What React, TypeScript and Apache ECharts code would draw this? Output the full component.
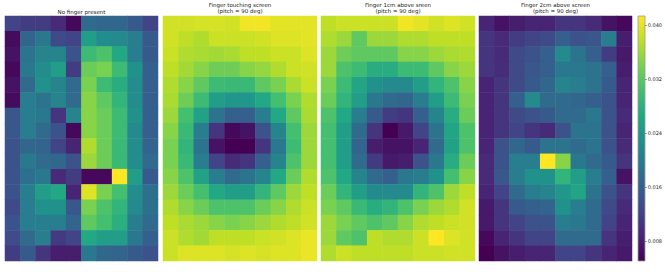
import React, { useEffect, useRef } from "react";
import * as echarts from "echarts";

const columns = ["0", "1", "2", "3", "4", "5", "6", "7", "8", "9"];
const rows = ["0", "1", "2", "3", "4", "5", "6", "7", "8", "9", "10", "11", "12", "13", "14", "15"];

const titles = [
  ["No finger present"],
  ["Finger touching screen", "(pitch = 90 deg)"],
  ["Finger 1cm above sreen", "(pitch = 90 deg)"],
  ["Finger 2cm above screen", "(pitch = 90 deg)"],
];

const colorbarTicks = [0.008, 0.016, 0.024, 0.032, 0.04];
const valueMin = 0.005;
const valueMax = 0.0413;

const noFinger = [
  [0.0123, 0.0115, 0.0115, 0.0094, 0.0057, 0.0177, 0.0170, 0.0170, 0.0152, 0.0123],
  [0.0061, 0.0166, 0.0195, 0.0130, 0.0123, 0.0250, 0.0224, 0.0221, 0.0202, 0.0152],
  [0.0068, 0.0188, 0.0213, 0.0213, 0.0141, 0.0297, 0.0311, 0.0268, 0.0202, 0.0152],
  [0.0057, 0.0195, 0.0224, 0.0250, 0.0115, 0.0330, 0.0340, 0.0297, 0.0232, 0.0159],
  [0.0068, 0.0177, 0.0232, 0.0213, 0.0177, 0.0340, 0.0297, 0.0275, 0.0224, 0.0159],
  [0.0061, 0.0202, 0.0188, 0.0213, 0.0177, 0.0348, 0.0322, 0.0286, 0.0224, 0.0159],
  [0.0148, 0.0202, 0.0195, 0.0104, 0.0213, 0.0348, 0.0330, 0.0297, 0.0232, 0.0159],
  [0.0148, 0.0202, 0.0177, 0.0141, 0.0057, 0.0348, 0.0330, 0.0297, 0.0221, 0.0159],
  [0.0141, 0.0170, 0.0166, 0.0123, 0.0086, 0.0369, 0.0330, 0.0293, 0.0224, 0.0166],
  [0.0141, 0.0195, 0.0177, 0.0170, 0.0141, 0.0359, 0.0330, 0.0293, 0.0224, 0.0177],
  [0.0141, 0.0184, 0.0195, 0.0094, 0.0115, 0.0057, 0.0057, 0.0413, 0.0250, 0.0152],
  [0.0141, 0.0206, 0.0250, 0.0268, 0.0086, 0.0395, 0.0340, 0.0304, 0.0224, 0.0184],
  [0.0130, 0.0202, 0.0232, 0.0232, 0.0148, 0.0340, 0.0311, 0.0286, 0.0221, 0.0184],
  [0.0141, 0.0202, 0.0202, 0.0202, 0.0166, 0.0322, 0.0304, 0.0279, 0.0202, 0.0177],
  [0.0133, 0.0177, 0.0202, 0.0112, 0.0123, 0.0268, 0.0250, 0.0250, 0.0195, 0.0159],
  [0.0115, 0.0152, 0.0104, 0.0079, 0.0079, 0.0195, 0.0170, 0.0166, 0.0152, 0.0141],
];

const touching = [
  [0.0388, 0.0388, 0.0391, 0.0391, 0.0388, 0.0406, 0.0406, 0.0398, 0.0398, 0.0398],
  [0.0388, 0.0377, 0.0369, 0.0384, 0.0384, 0.0384, 0.0388, 0.0395, 0.0395, 0.0398],
  [0.0384, 0.0369, 0.0366, 0.0362, 0.0366, 0.0377, 0.0377, 0.0384, 0.0384, 0.0395],
  [0.0377, 0.0362, 0.0348, 0.0333, 0.0333, 0.0348, 0.0355, 0.0369, 0.0384, 0.0388],
  [0.0369, 0.0348, 0.0322, 0.0297, 0.0293, 0.0293, 0.0322, 0.0340, 0.0366, 0.0384],
  [0.0366, 0.0333, 0.0297, 0.0250, 0.0239, 0.0239, 0.0268, 0.0304, 0.0340, 0.0369],
  [0.0359, 0.0304, 0.0257, 0.0188, 0.0159, 0.0159, 0.0202, 0.0268, 0.0322, 0.0366],
  [0.0348, 0.0293, 0.0202, 0.0104, 0.0057, 0.0068, 0.0141, 0.0213, 0.0304, 0.0359],
  [0.0340, 0.0286, 0.0188, 0.0068, 0.0050, 0.0050, 0.0104, 0.0195, 0.0297, 0.0359],
  [0.0340, 0.0293, 0.0202, 0.0123, 0.0094, 0.0104, 0.0159, 0.0213, 0.0311, 0.0359],
  [0.0348, 0.0311, 0.0257, 0.0202, 0.0177, 0.0188, 0.0213, 0.0268, 0.0330, 0.0369],
  [0.0359, 0.0330, 0.0304, 0.0268, 0.0250, 0.0250, 0.0286, 0.0322, 0.0359, 0.0377],
  [0.0369, 0.0348, 0.0330, 0.0311, 0.0311, 0.0311, 0.0330, 0.0348, 0.0369, 0.0384],
  [0.0377, 0.0366, 0.0359, 0.0348, 0.0340, 0.0348, 0.0359, 0.0369, 0.0377, 0.0388],
  [0.0384, 0.0369, 0.0362, 0.0377, 0.0377, 0.0377, 0.0384, 0.0388, 0.0395, 0.0402],
  [0.0384, 0.0395, 0.0395, 0.0395, 0.0391, 0.0395, 0.0391, 0.0395, 0.0395, 0.0402],
];

const oneCm = [
  [0.0377, 0.0384, 0.0384, 0.0384, 0.0384, 0.0406, 0.0398, 0.0388, 0.0395, 0.0388],
  [0.0369, 0.0359, 0.0322, 0.0359, 0.0359, 0.0369, 0.0369, 0.0377, 0.0377, 0.0377],
  [0.0359, 0.0333, 0.0322, 0.0322, 0.0322, 0.0348, 0.0348, 0.0359, 0.0366, 0.0369],
  [0.0359, 0.0311, 0.0297, 0.0275, 0.0275, 0.0297, 0.0297, 0.0322, 0.0348, 0.0359],
  [0.0340, 0.0297, 0.0261, 0.0232, 0.0221, 0.0221, 0.0250, 0.0286, 0.0311, 0.0348],
  [0.0330, 0.0286, 0.0250, 0.0195, 0.0177, 0.0170, 0.0202, 0.0250, 0.0297, 0.0340],
  [0.0311, 0.0268, 0.0202, 0.0152, 0.0115, 0.0104, 0.0159, 0.0213, 0.0275, 0.0330],
  [0.0304, 0.0250, 0.0177, 0.0104, 0.0050, 0.0075, 0.0123, 0.0188, 0.0261, 0.0311],
  [0.0304, 0.0250, 0.0166, 0.0079, 0.0068, 0.0068, 0.0086, 0.0177, 0.0257, 0.0311],
  [0.0304, 0.0250, 0.0177, 0.0112, 0.0075, 0.0079, 0.0141, 0.0195, 0.0275, 0.0330],
  [0.0311, 0.0268, 0.0213, 0.0177, 0.0159, 0.0195, 0.0202, 0.0232, 0.0304, 0.0348],
  [0.0330, 0.0286, 0.0250, 0.0221, 0.0221, 0.0221, 0.0286, 0.0311, 0.0359, 0.0377],
  [0.0340, 0.0322, 0.0293, 0.0275, 0.0286, 0.0311, 0.0340, 0.0359, 0.0369, 0.0388],
  [0.0359, 0.0340, 0.0322, 0.0311, 0.0322, 0.0348, 0.0369, 0.0377, 0.0384, 0.0388],
  [0.0359, 0.0322, 0.0311, 0.0377, 0.0369, 0.0369, 0.0384, 0.0413, 0.0395, 0.0388],
  [0.0369, 0.0384, 0.0377, 0.0377, 0.0377, 0.0377, 0.0384, 0.0384, 0.0388, 0.0388],
];

const twoCm = [
  [0.0086, 0.0068, 0.0079, 0.0086, 0.0086, 0.0104, 0.0104, 0.0094, 0.0068, 0.0057],
  [0.0104, 0.0094, 0.0115, 0.0123, 0.0130, 0.0159, 0.0141, 0.0148, 0.0202, 0.0079],
  [0.0104, 0.0094, 0.0130, 0.0141, 0.0159, 0.0221, 0.0188, 0.0159, 0.0115, 0.0075],
  [0.0104, 0.0097, 0.0130, 0.0148, 0.0159, 0.0195, 0.0195, 0.0188, 0.0159, 0.0079],
  [0.0086, 0.0104, 0.0130, 0.0152, 0.0170, 0.0213, 0.0202, 0.0188, 0.0152, 0.0086],
  [0.0086, 0.0104, 0.0159, 0.0221, 0.0177, 0.0177, 0.0170, 0.0159, 0.0141, 0.0086],
  [0.0086, 0.0104, 0.0130, 0.0141, 0.0152, 0.0177, 0.0177, 0.0195, 0.0141, 0.0094],
  [0.0086, 0.0104, 0.0123, 0.0104, 0.0094, 0.0141, 0.0188, 0.0188, 0.0141, 0.0086],
  [0.0086, 0.0141, 0.0170, 0.0152, 0.0188, 0.0188, 0.0177, 0.0188, 0.0141, 0.0094],
  [0.0094, 0.0141, 0.0202, 0.0202, 0.0413, 0.0348, 0.0195, 0.0177, 0.0152, 0.0104],
  [0.0094, 0.0148, 0.0202, 0.0232, 0.0232, 0.0286, 0.0250, 0.0202, 0.0159, 0.0068],
  [0.0086, 0.0123, 0.0177, 0.0202, 0.0213, 0.0239, 0.0261, 0.0188, 0.0141, 0.0104],
  [0.0075, 0.0104, 0.0152, 0.0159, 0.0166, 0.0232, 0.0202, 0.0177, 0.0130, 0.0094],
  [0.0075, 0.0104, 0.0123, 0.0141, 0.0141, 0.0202, 0.0195, 0.0177, 0.0123, 0.0086],
  [0.0057, 0.0086, 0.0104, 0.0123, 0.0123, 0.0177, 0.0177, 0.0177, 0.0104, 0.0079],
  [0.0050, 0.0068, 0.0079, 0.0086, 0.0086, 0.0123, 0.0123, 0.0104, 0.0086, 0.0075],
];

const panels = [noFinger, touching, oneCm, twoCm];

const viridis = [
  "#440154", "#482475", "#414487", "#355f8d", "#2a788e", "#21918c",
  "#22a884", "#44bf70", "#7ad151", "#bddf26", "#fde725",
];

const panelBoxes = [
  { left: 5, width: 153 },
  { left: 163, width: 154 },
  { left: 321, width: 154 },
  { left: 479, width: 153 },
];
const PANEL_TOP = 16;
const PANEL_H = 245;
const CB = { left: 638, top: 16, width: 7, height: 245 };

export default function App() {
  const ref = useRef<HTMLDivElement>(null);
  useEffect(() => {
    if (!ref.current) return;
    const chart = echarts.init(ref.current, undefined, { renderer: "svg" });

    const grids: any[] = panelBoxes.map((b) => ({
      left: b.left, top: PANEL_TOP, width: b.width, height: PANEL_H,
    }));
    grids.push({ left: CB.left, top: CB.top, width: CB.width, height: CB.height });

    const xAxes: any[] = panelBoxes.map((_, i) => ({
      type: "category", gridIndex: i, data: columns, show: false,
    }));
    xAxes.push({ type: "category", gridIndex: 4, data: ["cb"], show: false });

    const yAxes: any[] = panelBoxes.map((_, i) => ({
      type: "category", gridIndex: i, data: rows, inverse: true, show: false,
    }));
    yAxes.push({
      type: "value", gridIndex: 4, position: "right", min: valueMin, max: valueMax,
      axisLine: { show: false },
      splitLine: { show: false },
      axisTick: { show: true, customValues: colorbarTicks, length: 2, lineStyle: { color: "#333", width: 0.6 } },
      axisLabel: {
        show: true, customValues: colorbarTicks, margin: 3, fontSize: 5,
        fontFamily: "DejaVu Sans", color: "#222",
        formatter: (v: number) => v.toFixed(3),
      },
    });

    const series: any[] = panels.map((p, i) => ({
      type: "heatmap",
      xAxisIndex: i, yAxisIndex: i,
      data: p.flatMap((row, y) => row.map((v, x) => [x, y, v])),
      itemStyle: { borderWidth: 0 },
      emphasis: { disabled: true },
      progressive: 0,
    }));

    const graphics: any[] = [];
    titles.forEach((lines, i) => {
      const b = panelBoxes[i];
      const cx = b.left + b.width / 2;
      const ys = lines.length === 1 ? [11.7] : [5.4, 11.4];
      lines.forEach((t, k) => {
        graphics.push({
          type: "text", x: cx, y: ys[k],
          style: {
            text: t, fontSize: 5.5, fontFamily: "DejaVu Sans", fill: "#222",
            align: "center", verticalAlign: "middle",
          },
        });
      });
    });
    graphics.push({
      type: "rect",
      shape: { x: CB.left, y: CB.top, width: CB.width, height: CB.height },
      style: {
        fill: new echarts.graphic.LinearGradient(0, 0, 0, 1,
          viridis.slice().reverse().map((c, i) => ({ offset: i / (viridis.length - 1), color: c }))),
        stroke: "#999", lineWidth: 0.8,
      },
      z: 10,
    });

    chart.setOption({
      animation: false,
      backgroundColor: "#fff",
      grid: grids,
      xAxis: xAxes,
      yAxis: yAxes,
      visualMap: {
        type: "continuous", show: false, min: valueMin, max: valueMax,
        seriesIndex: [0, 1, 2, 3], inRange: { color: viridis },
      },
      graphic: graphics,
      series,
    });
    return () => chart.dispose();
  }, []);
  return <div ref={ref} style={{ position: "fixed", left: 0, top: 0, width: 665, height: 272 }} />;
}
